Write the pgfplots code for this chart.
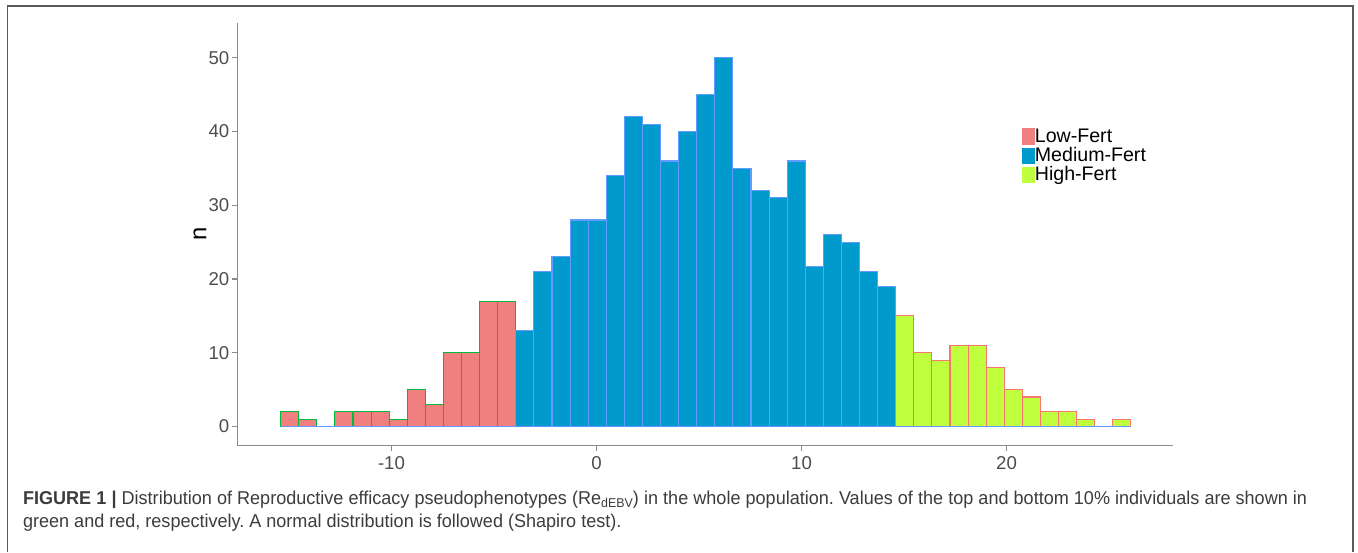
\documentclass[border=0pt]{standalone}
\usepackage{fontspec}
\setmainfont{Liberation Sans}
\newfontfamily\capfont[FakeStretch=0.97]{Liberation Sans}
\usepackage{pgfplots}
\pgfplotsset{compat=1.18}
\definecolor{lowfill}{HTML}{F08080}
\definecolor{medfill}{HTML}{009ACD}
\definecolor{highfill}{HTML}{C0FF3E}
\definecolor{lowedge}{HTML}{00BA38}
\definecolor{mededge}{HTML}{619CFF}
\definecolor{highedge}{HTML}{F8766D}
\definecolor{axgray}{HTML}{8A8A8A}
\definecolor{txtgray}{HTML}{4D4D4D}
\definecolor{capgray}{HTML}{3C3C3C}
\definecolor{framegray}{HTML}{5A5A5A}
\pgfplotsset{sqleg/.style={legend image code/.code={\fill[##1,draw=none] (0pt,-4.1pt) rectangle (6.6pt,4.1pt);}}}
\frenchspacing
\begin{document}
\begin{tikzpicture}
\path[use as bounding box] (0,0) rectangle (679pt,-276pt);
\draw[framegray, line width=0.75pt] (3.65pt,-276pt) -- (3.65pt,-3pt) -- (676.5pt,-3pt) -- (676.5pt,-276pt);
\begin{axis}[
  at={(118.85pt,-222.85pt)}, anchor=south west,
  scale only axis, width=467.65pt, height=211.35pt,
  xmin=-17.5, xmax=28.12, ymin=-2.6, ymax=54.7,
  axis x line*=bottom, axis y line*=left,
  axis line style={axgray, line width=0.65pt, -},
  xtick={-10,0,10,20}, ytick={0,10,20,30,40,50},
  tick style={axgray, line width=0.65pt},
  tick align=outside, major tick length=2.8pt,
  tick label style={font=\fontsize{9.3pt}{11pt}\selectfont, text=txtgray},
  yticklabel style={inner sep=0pt, xshift=-1.2pt},
  xticklabel style={inner sep=0pt, yshift=-2.2pt},
  /pgf/number format/assume math mode=true,
  ylabel={n},
  ylabel style={font=\fontsize{11.9pt}{14pt}\selectfont, at={(axis description cs:-0.0403,0.5)}, anchor=center},
  legend style={at={(axis description cs:0.8382,0.7516)}, anchor=north west, draw=none, fill=none,
    inner sep=0pt, outer sep=0pt, row sep=1.0pt,
    font=\fontsize{9.8pt}{11pt}\selectfont,
    nodes={inner sep=0pt, text height=7.0pt, text depth=1.6pt},
    /tikz/every even column/.append style={column sep=0.3pt}},
  legend cell align=left,
]
\addplot[ybar interval, fill=lowfill, draw=lowedge, line width=0.55pt, sqleg]
coordinates {(-15.405,2) (-14.523,1) (-13.640,0) (-12.758,2) (-11.876,2) (-10.994,2) (-10.111,1) (-9.229,5) (-8.347,3) (-7.464,10) (-6.582,10) (-5.700,17) (-4.817,17) (-3.935,0)};
\addlegendentry{Low-Fert}
\addplot[ybar interval, fill=medfill, draw=mededge, line width=0.55pt, sqleg]
coordinates {(-3.935,13) (-3.053,21) (-2.171,23) (-1.288,28) (-0.406,28) (0.476,34) (1.359,42) (2.241,41) (3.123,36) (4.006,40) (4.888,45) (5.770,50) (6.653,35) (7.535,32) (8.417,31) (9.299,36) (10.182,21.7) (11.064,26) (11.946,25) (12.829,21) (13.711,19) (14.593,0)};
\addlegendentry{Medium-Fert}
\addplot[ybar interval, fill=highfill, draw=highedge, line width=0.55pt, sqleg]
coordinates {(14.593,15) (15.476,10) (16.358,9) (17.240,11) (18.123,11) (19.005,8) (19.887,5) (20.770,4) (21.652,2) (22.534,2) (23.416,1) (24.299,0) (25.181,1) (26.063,0)};
\addlegendentry{High-Fert}
\addplot[mededge, line width=0.55pt, forget plot] coordinates {(-15.405,0) (26.063,0)};
\end{axis}
\node[anchor=base west, inner sep=0pt, text=capgray, font=\capfont\fontsize{9.3pt}{10pt}\selectfont] at (11.35pt,-252.25pt)
 {\makebox[642pt][s]{\textbf{FIGURE 1 |} Distribution of Reproductive efficacy pseudophenotypes (Re\raisebox{-0.3ex}{\fontsize{6.4pt}{6.4pt}\selectfont dEBV}) in the whole population. Values of the top and bottom 10\% individuals are shown in}};
\node[anchor=base west, inner sep=0pt, text=capgray, font=\capfont\fontsize{9.3pt}{10pt}\selectfont] at (11.35pt,-263.5pt)
 {green and red, respectively. A normal distribution is followed (Shapiro test).};
\end{tikzpicture}
\end{document}
